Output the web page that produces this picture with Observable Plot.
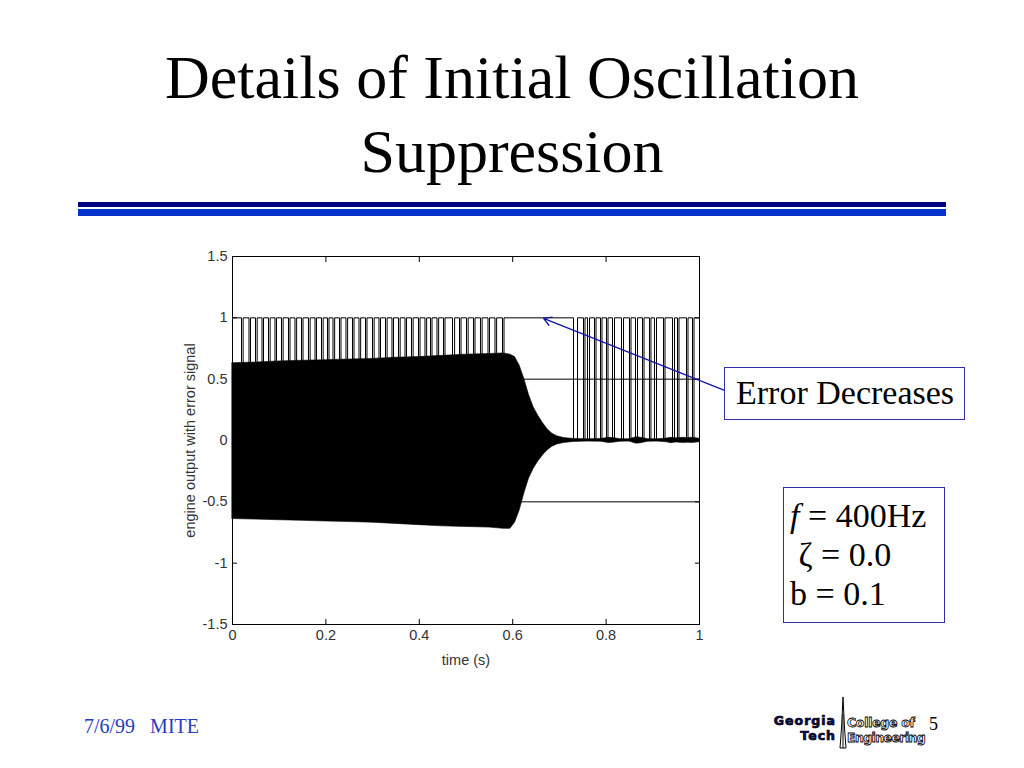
<!DOCTYPE html>
<html>
<head>
<meta charset="utf-8">
<script src="https://cdn.jsdelivr.net/npm/d3@7"></script>
<script src="https://cdn.jsdelivr.net/npm/@observablehq/plot@0.6"></script>
<style>
  html, body { margin: 0; padding: 0; background: #fff; }
  #page { position: relative; width: 1024px; height: 768px; overflow: hidden; background: #fff; }
  .abs { position: absolute; }
  #title { left: 0; width: 1024px; top: 40px; text-align: center; font-family: "Liberation Serif", "Times New Roman", serif; font-size: 62px; line-height: 74px; color: #000; }
  #bar1 { left: 78px; top: 202px; width: 868px; height: 5px; background: #000080; }
  #bar2 { left: 78px; top: 209px; width: 868px; height: 7px; background: #0033cc; }
  #chart { left: 172px; top: 240px; }
  .box { border: 1.5px solid #3030a8; background: #fff; font-family: "Liberation Serif", "Times New Roman", serif; color: #000; box-sizing: border-box; }
  #errbox { left: 724px; top: 367px; width: 241px; height: 53px; font-size: 34px; line-height: 50px; padding-left: 11px; white-space: nowrap; }
  #parbox { left: 783px; top: 487px; width: 162px; height: 136px; font-size: 34px; padding-left: 6px; padding-top: 8px; }
  #parbox div { height: 39px; line-height: 39px; white-space: pre; }
  #footer { left: 84px; top: 715px; font-family: "Liberation Serif", "Times New Roman", serif; font-size: 20px; color: #2a3cc0; white-space: pre; }
  #logo { left: 760px; top: 694px; }
</style>
</head>
<body>
<div id="page">
  <div id="title" class="abs">Details of Initial Oscillation<br>Suppression</div>
  <div id="bar1" class="abs"></div>
  <div id="bar2" class="abs"></div>
  <div id="chart" class="abs"></div>
  <div id="errbox" class="abs box">Error Decreases</div>
  <div id="parbox" class="abs box"><div><i>f</i> = 400Hz</div><div> ζ = 0.0</div><div>b = 0.1</div></div>
  <div id="footer" class="abs">7/6/99   MITE</div>
  <svg id="logo" class="abs" width="190" height="60">
    <text x="76" y="31" text-anchor="end" font-family="DejaVu Sans" font-weight="bold" font-size="12.5" fill="#0a0a5a" stroke="#000" stroke-width="0.7" letter-spacing="1">Georgia</text>
    <text x="76" y="46" text-anchor="end" font-family="DejaVu Sans" font-weight="bold" font-size="12.5" fill="#0a0a5a" stroke="#000" stroke-width="0.7" letter-spacing="1">Tech</text>
    <path d="M83,3 L84.5,34 L86,54 L80,54 L81.5,34 Z" fill="#fff" stroke="#000" stroke-width="1"/>
    <line x1="83" y1="20" x2="83" y2="54" stroke="#000" stroke-width="1"/>
    <text x="87" y="33" font-family="DejaVu Sans" font-weight="bold" font-size="12.5" fill="#fff" stroke="#000" stroke-width="0.8" letter-spacing="-0.3">College of</text>
    <text x="87" y="48" font-family="DejaVu Sans" font-weight="bold" font-size="12.5" fill="#fff" stroke="#000" stroke-width="0.8" letter-spacing="-0.6">Engineering</text>
    <text x="169" y="36" font-family="Liberation Serif" font-size="18" fill="#000">5</text>
  </svg>
</div>
<script>
// ---- axis ticks ----
const xTicks = [0, 0.2, 0.4, 0.6, 0.8, 1];
const xTickLabels = ["0", "0.2", "0.4", "0.6", "0.8", "1"];
const yTicks = [-1.5, -1, -0.5, 0, 0.5, 1, 1.5];
const yTickLabels = ["-1.5", "-1", "-0.5", "0", "0.5", "1", "1.5"];

// ---- engine output (400 Hz oscillation, drawn as its envelope) ----
const envTime  = [0, 0.05, 0.1, 0.15, 0.2, 0.25, 0.3, 0.35, 0.4, 0.45, 0.5, 0.55, 0.58, 0.595, 0.605, 0.615, 0.625, 0.635, 0.645, 0.655, 0.665, 0.675, 0.685, 0.695, 0.71, 0.73, 0.76, 0.79, 0.805, 0.815, 0.83, 0.85, 0.865, 0.875, 0.89, 0.91, 0.93, 0.94, 0.95, 0.965, 0.975, 0.985, 1];
const envUpper = [0.63, 0.635, 0.645, 0.65, 0.655, 0.66, 0.665, 0.675, 0.68, 0.69, 0.70, 0.705, 0.71, 0.70, 0.68, 0.61, 0.50, 0.37, 0.27, 0.20, 0.14, 0.09, 0.055, 0.035, 0.02, 0.013, 0.01, 0.012, 0.022, 0.02, 0.011, 0.01, 0.026, 0.022, 0.011, 0.01, 0.016, 0.022, 0.018, 0.022, 0.02, 0.022, 0.015];
const envLower = [-0.64, -0.645, -0.65, -0.655, -0.66, -0.665, -0.67, -0.68, -0.69, -0.70, -0.705, -0.71, -0.72, -0.72, -0.67, -0.57, -0.43, -0.31, -0.23, -0.17, -0.12, -0.08, -0.05, -0.033, -0.02, -0.012, -0.009, -0.01, -0.02, -0.018, -0.01, -0.009, -0.026, -0.022, -0.01, -0.009, -0.015, -0.022, -0.016, -0.02, -0.018, -0.02, -0.014];

// ---- error signal (0/1): times where it drops to 0, and how long it stays low ----
const dipStart = [0.0193, 0.0353, 0.0493, 0.0632, 0.0771, 0.0910, 0.1049, 0.1199, 0.1338, 0.1478, 0.1627, 0.1767, 0.1906, 0.2034, 0.2152, 0.2291, 0.2430, 0.2570, 0.2709, 0.2848, 0.2998, 0.3137, 0.3276, 0.3415, 0.3555, 0.3694, 0.3833, 0.3983, 0.4122, 0.4240, 0.4379, 0.4518, 0.4711, 0.4861, 0.5011, 0.5161, 0.5310, 0.5471, 0.5621, 0.5782,
                  0.7302, 0.7516, 0.7602, 0.7752, 0.7880, 0.8009, 0.8137, 0.8330, 0.8501, 0.8630, 0.8780, 0.8929, 0.9036, 0.9229, 0.9422, 0.9529, 0.9722, 0.9850];
const dipWidth = [0.0035, 0.0032, 0.0035, 0.0032, 0.0035, 0.0032, 0.0035, 0.0032, 0.0035, 0.0032, 0.0035, 0.0032, 0.0035, 0.0032, 0.0035, 0.0032, 0.0035, 0.0032, 0.0035, 0.0032, 0.0035, 0.0032, 0.0035, 0.0032, 0.0035, 0.0032, 0.0035, 0.0032, 0.0035, 0.0032, 0.0035, 0.0032, 0.0045, 0.0032, 0.0035, 0.0032, 0.0035, 0.0032, 0.0035, 0.0032,
                  0.0086, 0.0032, 0.0043, 0.0032, 0.0032, 0.0032, 0.0043, 0.0043, 0.0032, 0.0043, 0.0032, 0.0032, 0.0043, 0.0032, 0.0043, 0.0032, 0.0032, 0.0032];

// ---- reference levels ----
const levels = [0.5, -0.5];

// ---- annotation arrow (from the label box to the error signal) ----
const arrowFrom = {t: 1.0535, v: 0.408};
const arrowTo = {t: 0.666, v: 0.995};

// build tables
const env = envTime.map((t, i) => ({t, hi: envUpper[i], lo: envLower[i]}));
const square = [{t: 0, v: 0}, {t: 0, v: 1}];
dipStart.forEach((s, i) => {
  const e = s + dipWidth[i];
  square.push({t: s, v: 1}, {t: s, v: 0}, {t: e, v: 0}, {t: e, v: 1});
});
square.push({t: 1, v: 1}, {t: 1, v: 0});
const arrows = [{x1: arrowFrom.t, y1: arrowFrom.v, x2: arrowTo.t, y2: arrowTo.v}];

const chart = Plot.plot({
  width: 558,
  height: 429,
  marginLeft: 60,
  marginRight: 31,
  marginTop: 16,
  marginBottom: 45,
  x: {domain: [0, 1]},
  y: {domain: [-1.5, 1.5]},
  style: {fontFamily: "'Liberation Sans', Arial, sans-serif", fontSize: "14.5px", color: "#333", background: "transparent", overflow: "visible"},
  marks: [
    Plot.line(square, {x: "t", y: "v", stroke: "#000", strokeWidth: 1}),
    Plot.areaY(env, {x: "t", y1: "lo", y2: "hi", fill: "#000", stroke: "#000", strokeWidth: 0.6}),
    Plot.ruleY(levels, {stroke: "#000", strokeWidth: 1}),
    Plot.frame({stroke: "#000"}),
    Plot.axisX(xTicks, {anchor: "bottom", tickSize: 5, dy: -5, fill: "none", stroke: "#000"}),
    Plot.axisX(xTicks, {anchor: "top", tickSize: 5, dy: 5, fill: "none", stroke: "#000"}),
    Plot.axisY(yTicks, {anchor: "left", tickSize: 5, dx: 5, fill: "none", stroke: "#000"}),
    Plot.axisY(yTicks, {anchor: "right", tickSize: 5, dx: -5, fill: "none", stroke: "#000"}),
    Plot.axisX(xTicks, {anchor: "bottom", tickSize: 0, tickPadding: 5, tickFormat: d => xTickLabels[xTicks.indexOf(d)], fill: "#333",
      label: "time (s)", labelAnchor: "center", labelOffset: 40, labelArrow: "none"}),
    Plot.axisY(yTicks, {anchor: "left", tickSize: 0, tickPadding: 5, tickFormat: d => yTickLabels[yTicks.indexOf(d)], fill: "#333",
      label: "engine output with error signal", labelAnchor: "center", labelOffset: 48, labelArrow: "none"}),
    Plot.arrow(arrows, {x1: "x1", y1: "y1", x2: "x2", y2: "y2", stroke: "#1414a8", strokeWidth: 1.3, headLength: 10})
  ]
});
document.getElementById("chart").appendChild(chart);
</script>
</body>
</html>
